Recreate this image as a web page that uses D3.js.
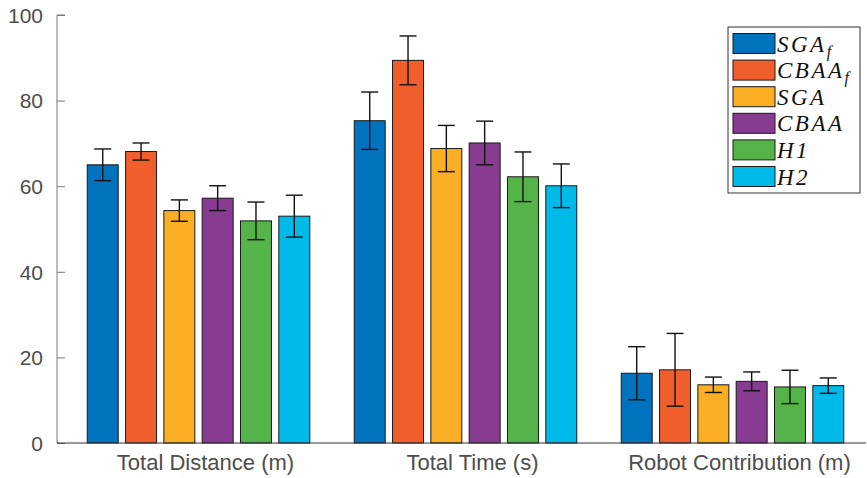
<!DOCTYPE html>
<html>
<head>
<meta charset="utf-8">
<script src="https://cdn.jsdelivr.net/npm/d3@7"></script>
<style>
  html, body { margin: 0; padding: 0; background: #fff; }
  svg { display: block; }
  .tick-label { font-family: "Liberation Sans", Arial, sans-serif; font-size: 21px; fill: #4d4d4d; }
  .cat-label { font-family: "Liberation Sans", Arial, sans-serif; font-size: 22px; fill: #4d4d4d; }
  .leg-label { font-family: "Liberation Serif", "DejaVu Serif", serif; font-style: italic; font-size: 23px; fill: #111; letter-spacing: 2.5px; }
</style>
</head>
<body>
<div id="chart"></div>
<script>
// categories, series and values
const categories = ["Total Distance (m)", "Total Time (s)", "Robot Contribution (m)"];
const series = ["SGA_f", "CBAA_f", "SGA", "CBAA", "H1", "H2"];
const colors = ["#0173be", "#f05f2b", "#faae24", "#873b91", "#55b449", "#00bbe9"];

const meanSGAf  = [65.0, 75.3, 16.3];
const meanCBAAf = [68.1, 89.4, 17.1];
const meanSGA   = [54.3, 68.8, 13.6];
const meanCBAA  = [57.2, 70.1, 14.4];
const meanH1    = [51.9, 62.2, 13.1];
const meanH2    = [53.0, 60.1, 13.4];

const errSGAf  = [3.7, 6.7, 6.2];
const errCBAAf = [2.0, 5.7, 8.5];
const errSGA   = [2.5, 5.4, 1.8];
const errCBAA  = [2.9, 5.1, 2.2];
const errH1    = [4.4, 5.8, 3.9];
const errH2    = [4.9, 5.1, 1.8];

const yTicks = [0, 20, 40, 60, 80, 100];

const means = [meanSGAf, meanCBAAf, meanSGA, meanCBAA, meanH1, meanH2];
const errs  = [errSGAf, errCBAAf, errSGA, errCBAA, errH1, errH2];

const width = 867, height = 478;
const svg = d3.select("#chart").append("svg")
  .attr("width", width).attr("height", height);

// category positions are 1..3, like MATLAB's bar()
const x = d3.scaleLinear().domain([0.47, 3.5]).range([57, 866]);
const y = d3.scaleLinear().domain([0, 100]).range([443, 15]);

const barStep = 0.1435, barW = 0.116;

const rows = [];
series.forEach((s, i) => {
  categories.forEach((c, j) => {
    rows.push({ s: i, c: j, v: means[i][j], e: errs[i][j] });
  });
});

const xc = d => x(d.c + 1 + (d.s - 2.5) * barStep);

// bars
svg.append("g").selectAll("rect")
  .data(rows)
  .join("rect")
  .attr("x", d => xc(d) - (x(barW) - x(0)) / 2)
  .attr("width", x(barW) - x(0))
  .attr("y", d => y(d.v))
  .attr("height", d => y(0) - y(d.v))
  .attr("fill", d => colors[d.s])
  .attr("stroke", "#1a1a1a")
  .attr("stroke-width", 1);

// error bars
const eb = svg.append("g").attr("stroke", "#111").attr("stroke-width", 1.4);
const capHalf = 8.5;
rows.forEach(d => {
  const cx = xc(d);
  eb.append("line").attr("x1", cx).attr("x2", cx).attr("y1", y(d.v + d.e)).attr("y2", y(d.v - d.e));
  eb.append("line").attr("x1", cx - capHalf).attr("x2", cx + capHalf).attr("y1", y(d.v + d.e)).attr("y2", y(d.v + d.e));
  eb.append("line").attr("x1", cx - capHalf).attr("x2", cx + capHalf).attr("y1", y(d.v - d.e)).attr("y2", y(d.v - d.e));
});

// y axis: ticks inward
const yAxis = svg.append("g")
  .attr("transform", `translate(${x.range()[0]},0)`)
  .call(d3.axisRight(y).tickValues(yTicks).tickSize(8).tickFormat(""));
yAxis.select(".domain").attr("stroke", "#7a7a7a").attr("d", `M8,${y(100)}H0V${y(0)}`);
yAxis.selectAll(".tick line").attr("stroke", "#7a7a7a");
yAxis.selectAll(".tick").append("text")
  .attr("class", "tick-label")
  .attr("x", -14).attr("dy", "0.35em")
  .attr("text-anchor", "end")
  .attr("fill", null)
  .text(d => d);

// x axis line
svg.append("line")
  .attr("x1", x.range()[0]).attr("x2", x.range()[1])
  .attr("y1", y(0)).attr("y2", y(0))
  .attr("stroke", "#333").attr("stroke-width", 1);

svg.append("g").selectAll("text")
  .data(categories)
  .join("text")
  .attr("class", "cat-label")
  .attr("x", (d, j) => x(j + 1) + 7)
  .attr("y", 470)
  .attr("text-anchor", "middle")
  .text(d => d);

// legend
const lg = svg.append("g").attr("transform", "translate(728,27)");
lg.append("rect").attr("width", 132).attr("height", 166)
  .attr("fill", "#fff").attr("stroke", "#333").attr("stroke-width", 1);
series.forEach((s, i) => {
  const row = lg.append("g").attr("transform", `translate(0,${16.5 + i * 26.6})`);
  row.append("rect").attr("x", 5).attr("y", -10).attr("width", 42).attr("height", 20)
    .attr("fill", colors[i]).attr("stroke", "#1a1a1a");
  const parts = s.split("_");
  const t = row.append("text").attr("class", "leg-label").attr("x", 49).attr("y", 8);
  t.append("tspan").text(parts[0]);
  if (parts[1]) t.append("tspan").attr("dy", 5).attr("font-size", 16).attr("letter-spacing", 0).text(parts[1]);
});
</script>
</body>
</html>
